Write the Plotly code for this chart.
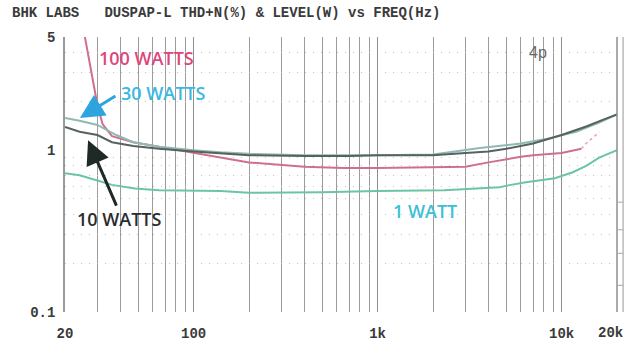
import math
import plotly.graph_objects as go

# ---------------- data ----------------
freq_100w = [25.5, 27, 28.5, 30, 32, 36, 47, 65, 100, 140, 200, 400, 650, 1000, 1500, 2000, 3000, 4000, 5000, 6000, 7000, 10000, 12800]
thd_100w = [5.2, 3.6, 2.6, 1.9, 1.45, 1.22, 1.12, 1.05, 0.96, 0.90, 0.84, 0.79, 0.775, 0.775, 0.78, 0.785, 0.79, 0.84, 0.88, 0.91, 0.93, 0.96, 1.02]
freq_100w_tail = [12800, 13600, 16000]
thd_100w_tail = [1.02, 1.10, 1.29]

freq_30w = [20, 24, 30, 38, 47, 65, 100, 140, 200, 400, 1000, 2000, 3600, 6000, 8200, 12000, 16000, 20000]
thd_30w = [1.58, 1.52, 1.43, 1.24, 1.12, 1.05, 1.0, 0.97, 0.95, 0.93, 0.93, 0.94, 1.03, 1.10, 1.17, 1.30, 1.48, 1.66]

freq_10w = [20, 24, 30, 36, 47, 65, 100, 140, 200, 400, 700, 1000, 2000, 3000, 4000, 5000, 7000, 10000, 13600, 17000, 20000]
thd_10w = [1.39, 1.30, 1.24, 1.12, 1.06, 1.02, 0.98, 0.96, 0.93, 0.92, 0.92, 0.93, 0.93, 0.96, 0.98, 1.02, 1.10, 1.24, 1.40, 1.55, 1.66]

freq_1w = [20, 24, 30, 36, 48, 65, 140, 200, 500, 1000, 2300, 4600, 5200, 6400, 9200, 11500, 13600, 16000, 20000]
thd_1w = [0.72, 0.70, 0.65, 0.61, 0.58, 0.566, 0.56, 0.545, 0.55, 0.56, 0.566, 0.59, 0.608, 0.634, 0.67, 0.73, 0.80, 0.90, 1.0]

x_tick_vals = [20, 100, 1000, 10000]
x_tick_text = ["20", "100", "1k", "10k"]
x_end_label = "20k"
x_minor_vals = [30, 40, 50, 60, 70, 80, 90, 200, 300, 400, 500, 600, 700, 800, 900,
                2000, 3000, 4000, 5000, 6000, 7000, 8000, 9000]
y_tick_vals = [0.1, 1, 5]
y_tick_text = ["0.1", "1", "5"]
y_grid_vals = [0.2, 0.3, 0.4, 0.5, 0.6, 0.7, 0.8, 0.9, 2, 3, 4]
right_ladder_vals = [0.13, 0.17, 0.25, 0.35, 0.54, 0.73, 0.96, 1.2, 1.4, 1.7, 2.1, 3.0]

title_text = "BHK LABS   DUSPAP-L THD+N(%) & LEVEL(W) vs FREQ(Hz)"

# ---------------- figure ----------------
fig = go.Figure()

fig.add_trace(go.Scatter(x=freq_1w, y=thd_1w, mode="lines", name="1 WATT",
                         line=dict(color="#6cc4a8", width=2)))
fig.add_trace(go.Scatter(x=freq_100w, y=thd_100w, mode="lines", name="100 WATTS",
                         line=dict(color="#cf6f90", width=2)))
fig.add_trace(go.Scatter(x=freq_100w_tail, y=thd_100w_tail, mode="lines", name="100 WATTS tail",
                         line=dict(color="#e3a3bb", width=1.5, dash="dot")))
fig.add_trace(go.Scatter(x=freq_30w, y=thd_30w, mode="lines", name="30 WATTS",
                         line=dict(color="#8fb9b2", width=2)))
fig.add_trace(go.Scatter(x=freq_10w, y=thd_10w, mode="lines", name="10 WATTS",
                         line=dict(color="#55625f", width=2)))

mono = dict(family="Liberation Mono", size=14, color="#3a3a3a", weight="bold")

fig.update_xaxes(
    type="log", range=[math.log10(20), math.log10(20000)],
    tickvals=x_tick_vals, ticktext=x_tick_text, ticks="", ticklabelstandoff=11,
    ticklabeloverflow="allow", automargin=False,
    tickfont=mono,
    showgrid=True, gridcolor="#8e8e8e", gridwidth=1.4,
    minor=dict(tickvals=x_minor_vals, showgrid=True, gridcolor="#9c9c9c", gridwidth=1.3, ticks=""),
    showline=False, zeroline=False,
)
fig.update_yaxes(
    type="log", range=[-1, math.log10(5)],
    tickvals=y_tick_vals, ticktext=y_tick_text, ticks="", ticklabelstandoff=5,
    tickfont=mono, automargin=False,
    showgrid=False,
    minor=dict(tickvals=y_grid_vals, showgrid=True, gridcolor="#c4c4c4", gridwidth=1, griddash="1px,7px", ticks=""),
    showline=True, linecolor="#9a9a9a", linewidth=1.5, zeroline=False,
)

label_font = dict(family="Open Sans", size=18, weight=600)
annotations = [
    dict(x=55.2, y=3.70, text="100 WATTS", font=dict(color="#e0457b", **label_font)),
    dict(x=69.0, y=2.25, text="30 WATTS", font=dict(color="#3bb8e0", **label_font)),
    dict(x=39.8, y=0.375, text="10 WATTS", font=dict(color="#2c2c2c", **label_font)),
    dict(x=1817, y=0.42, text="1 WATT", font=dict(color="#3cc0d6", **label_font)),
    dict(x=7400, y=4.03, text="4p", font=dict(family="Liberation Sans", size=16, color="#666666")),
]
for a in annotations:
    a.update(xref="x", yref="y", showarrow=False, xanchor="center", yanchor="middle")
    a["x"] = math.log10(a["x"])
    a["y"] = math.log10(a["y"])

annotations.append(dict(x=math.log10(24.1), y=math.log10(1.58), xref="x", yref="y",
                        ax=37, ay=-23, showarrow=True, arrowhead=2, arrowsize=1.6,
                        arrowwidth=3, arrowcolor="#2ea4df", text=""))
annotations.append(dict(x=math.log10(26.7), y=math.log10(1.153), xref="x", yref="y",
                        ax=29, ay=67, showarrow=True, arrowhead=2, arrowsize=1.6,
                        arrowwidth=3, arrowcolor="#1f2a27", text=""))
annotations.append(dict(x=0, y=1.0, xref="paper", yref="paper", xshift=-55, yshift=14,
                        text=title_text, showarrow=False, xanchor="left", yanchor="bottom",
                        font=dict(family="Liberation Mono", size=14, color="#3a3a3a", weight="bold")))
# end-of-axis label, kept inside the page edge
annotations.append(dict(x=1, y=0, xref="paper", yref="paper", xshift=8, yshift=-11,
                        text=x_end_label, showarrow=False, xanchor="right", yanchor="top",
                        font=mono))
fig.update_layout(annotations=annotations)

# right-hand double frame line with ladder ticks
fig.add_shape(type="line", xref="paper", yref="paper", x0=1, x1=1, y0=0, y1=1,
              line=dict(color="#8e8e8e", width=1.5))
fig.add_shape(type="line", xref="paper", yref="paper", x0=1.011, x1=1.011, y0=0, y1=1,
              line=dict(color="#a8a8a8", width=1.2))
for v in right_ladder_vals:
    fig.add_shape(type="line", xref="paper", yref="y", x0=1, x1=1.011,
                  y0=math.log10(v), y1=math.log10(v), line=dict(color="#a8a8a8", width=1))

fig.update_layout(
    width=626, height=345,
    margin=dict(l=65, r=9, t=37, b=33),
    paper_bgcolor="white", plot_bgcolor="white",
    showlegend=False,
)

fig.write_html("out.html")
